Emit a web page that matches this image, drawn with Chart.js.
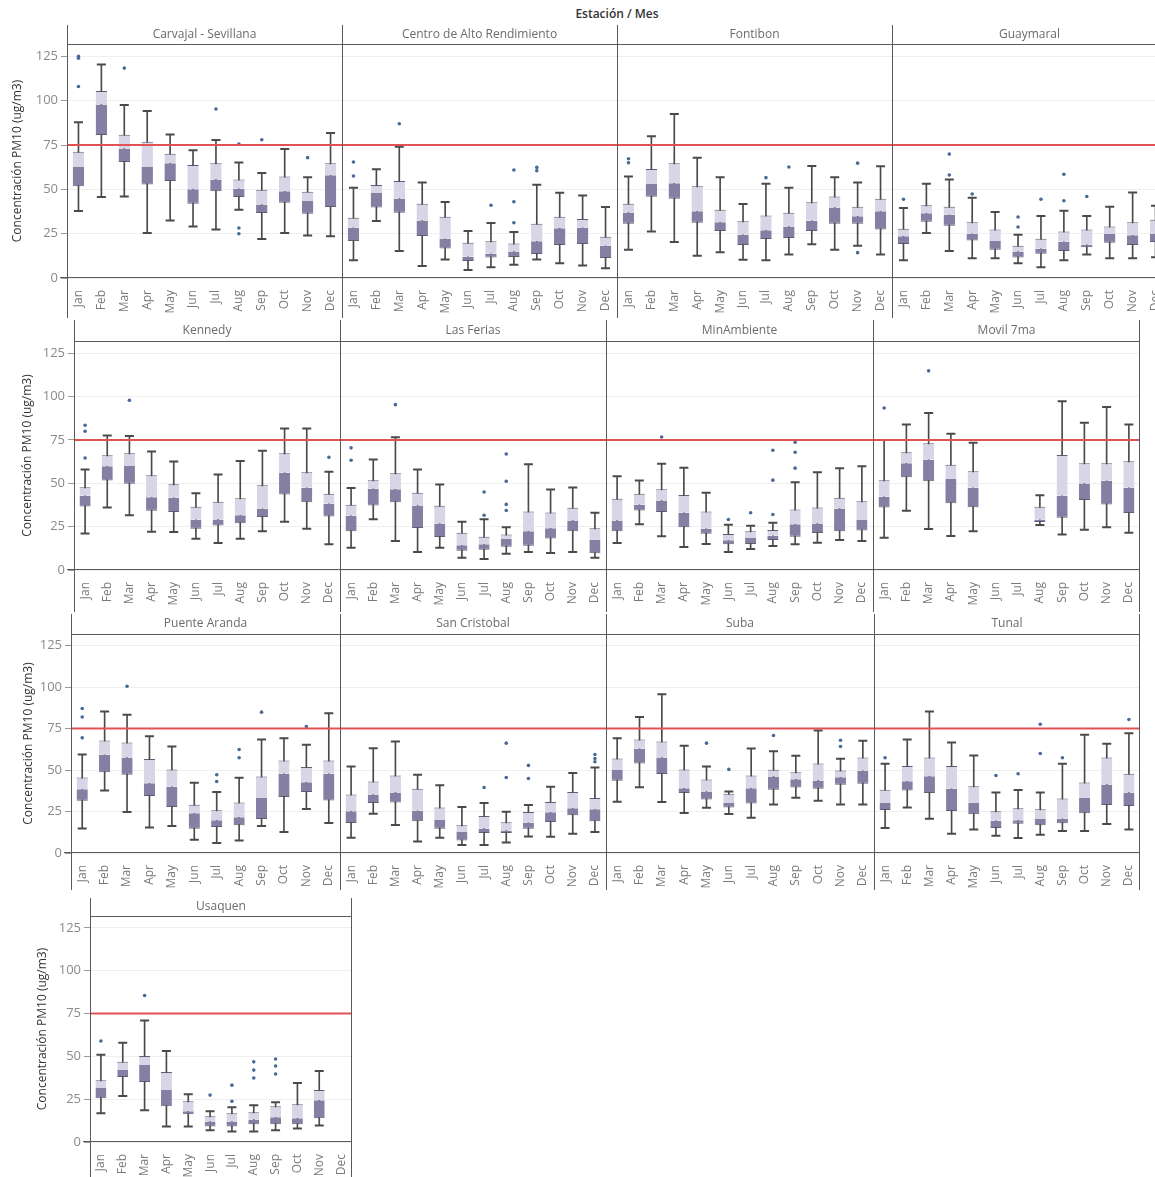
<!DOCTYPE html>
<html>
<head>
<meta charset="utf-8">
<script src="https://cdn.jsdelivr.net/npm/chart.js@4.4.1/dist/chart.umd.min.js"></script>
<style>
  body { margin: 0; width: 1155px; height: 1177px; overflow: hidden; background: #fff; position: relative; font-family: "Open Sans", sans-serif; }
  .panel { position: absolute; }
  #header { position: absolute; top: 5px; left: 68px; width: 1098px; text-align: center; font-size: 12px; font-weight: 600; color: #333; }
</style>
</head>
<body>
<div id="header">Estación / Mes</div>
<script>
// Categories and axis
const months = ['Jan', 'Feb', 'Mar', 'Apr', 'May', 'Jun', 'Jul', 'Aug', 'Sep', 'Oct', 'Nov', 'Dec'];
const yTicks = [0, 25, 50, 75, 100, 125];
const yMax = 132;
const limitValue = 75; // norma PM10
const yTitle = 'Concentración PM10 (ug/m3)';

// Box data per station: [whisker low, q1, median, q3, whisker high]
// Outliers: [month index, value]
const carvajalBox = [[37.8,51.7,62.6,71.2,87.8],[45.7,80.6,97.9,105.5,120.5],[46,65.4,73,80.8,97.6],[25.4,52.8,62.6,76.9,94.2],[32.5,54.7,64.8,70.1,81],[29.1,41.9,50,63.7,72],[27.3,49,55.6,64.8,77.8],[38.5,45.7,50.4,55.6,65.2],[22,36.7,41.5,49.8,59.2],[25.4,42.5,48.9,57.3,72.7],[24,36.3,43.4,48.7,56.8],[23.5,40,58,64.8,81.8]];
const carvajalOut = [[0,125],[0,124],[0,108],[2,118.4],[6,95.3],[7,75.5],[7,28.2],[7,25],[8,78],[10,67.9]];

const centroBox = [[10,20.9,28.4,34,50.9],[32.1,39.7,47.9,52.4,61.3],[15.2,36.8,44.9,54.7,74],[6.8,23.7,32.5,41.9,53.9],[10.5,16.7,22.2,34.6,42.9],[4.5,9.6,12,19.9,26.5],[6,11.5,13.7,20.7,31],[7.5,11.8,15,19.4,25.9],[10.5,13.5,20.7,30.6,52.6],[8.3,18.6,28,34.6,48.1],[7,19.2,28.4,33.3,46.6],[5.5,11.3,18.2,23.3,40]];
const centroOut = [[0,65.4],[0,57.5],[2,87],[6,41],[7,60.9],[7,43],[7,31.2],[8,62.4],[8,60.5]];

const fontibonBox = [[16,30.6,37,41.9,57.3],[26.3,45.9,53,61.5,79.9],[20.3,44.7,53.4,64.8,92.5],[12.6,31.2,37.6,51.7,67.9],[14.5,26.5,31.4,38.5,56.8],[10.3,18.6,24.4,32,41.7],[10,22,26.9,35.2,53.2],[13.3,22.6,29.1,36.8,50.9],[19,26.5,32.3,42.7,63.2],[16,30.6,39.8,46,56.8],[18.2,30.6,34.8,40.2,53.9],[13.2,27.3,37.6,44.7,63]];
const fontibonOut = [[0,67.3],[0,65],[6,56.6],[7,62.6],[10,64.8],[10,14.3]];

const guaymaralBox = [[10,19.2,23.5,27.8,39.5],[25.4,31.8,36.5,41,53.2],[15.2,29.5,35.7,40.2,55.6],[11.1,21.1,25,31.4,45.3],[11.1,16,20.9,27.3,37.2],[8.3,11.5,15,18.2,24.4],[6,13.7,16.5,22.2,35],[10,15.2,20.5,26.3,38],[13.3,17.3,18.8,27.3,35],[11.1,19.9,24.8,29.1,40.2],[11.1,18.6,24.1,31.4,48.3],[11.7,20.3,25,32.9,40.8]];
const guaymaralOut = [[0,44.4],[2,69.9],[2,58.1],[3,47.4],[5,34.4],[5,28.8],[6,44.4],[7,58.5],[7,43.6],[8,46]];

const kennedyBox = [[21.1,36.6,42.8,47.7,57.9],[36,51.6,59.8,66.1,77.5],[31.6,49.7,60,67.3,77.3],[22,34.1,42,54.6,68.3],[21.9,33.4,41.6,49.5,62.5],[18,23.8,29,36.4,44.3],[15.5,25.7,29.1,39.3,55],[18,27,31.6,41.4,62.9],[22.4,30.5,35.3,48.9,68.8],[27.8,43.5,56,67.3,81.5],[23.8,39.1,47.4,56.4,81.5],[14.8,30.9,38.2,43.9,56.6]];
const kennedyOut = [[0,83.4],[0,80],[0,64.6],[2,97.8],[11,65]];

const feriasBox = [[12.8,22.4,31.3,37.6,47.2],[29.3,37.2,46.8,51.8,63.7],[16.7,39.1,46.6,55.8,76.5],[10.4,24.2,37.2,44.5,57.9],[12.8,19,26.8,37,49.3],[7.1,11.1,14.2,21.5,27.8],[6.3,11.7,14.8,19.2,29.3],[9.4,13.4,17.8,20.5,24.7],[10.4,14,22.4,33.7,61],[9.8,18.2,24,33.2,46.4],[10.4,22.4,28.6,35.9,47.5],[7.1,9.6,17.3,24,33]];
const feriasOut = [[0,70.4],[0,63.3],[2,95.3],[6,45],[6,31.6],[7,66.9],[7,51.2],[7,37.8],[7,34.3]];

const minAmbienteBox = [[15.5,22.4,28.6,41,54],[26.3,34.3,37.6,43.9,51.6],[19.4,33.4,40.1,46.6,61.3],[13.2,24.7,33,43.3,58.9],[15,20.9,23.8,33.7,44.5],[10.4,14.8,17.1,20.7,26.1],[12.1,15,18.4,22.4,25.5],[13.8,17.3,19.7,23,27.2],[14.8,19.2,26.3,34.9,50.6],[15.7,21.3,26.8,36,56.4],[17.3,22.4,35.5,41.6,58.7],[16.7,22.8,28.8,39.7,59.8]];
const minAmbienteOut = [[2,76.7],[5,29.1],[6,33],[7,69],[7,51.8],[7,32],[8,73.6],[8,67.9],[8,58.7]];

const movilBox = [[18.6,36,42.2,51.8,75],[34.1,53.5,61.5,67.9,83.8],[23.6,51.2,63.5,73,90.5],[19.6,38.5,52.5,60.6,78.6],[22.4,36.2,47.4,56.9,73.4],null,null,[25.9,27.6,29,36.4,43.1],[20.5,30.1,42.8,66.3,97.2],[23.2,40.3,49.8,61.5,84.9],[24.7,37.8,51.4,61.5,93.9],[21.5,32.8,47.4,62.7,83.8]];
const movilOut = [[0,93.4],[2,114.8]];

const puenteArandaBox = [[14.8,31.5,38.5,45.5,59.4],[37.7,48.6,59.2,67.8,85.3],[24.7,47.2,57.6,66.6,83.3],[15.4,34.3,42.1,56.6,70.4],[16.3,27.7,39.9,50.4,64.2],[8,14.6,23.9,29.1,42.3],[6,15.6,19.7,25.7,36.7],[7.6,16.7,21.5,30.5,45.3],[16.3,20.5,33.1,46.1,68.4],[12.6,33.7,47.8,55.8,69.2],[26.5,36.7,42.7,51.8,65.2],[18.1,31.7,47.8,55.8,84.3]];
const puenteArandaOut = [[0,87.1],[0,82],[0,69.4],[2,100.5],[6,47.2],[6,43.1],[7,62.4],[7,57.4],[8,84.9],[10,76.2]];

const sanCristobalBox = [[9.2,18.1,25.1,35.3,52.2],[23.7,30.1,35.3,43.1,63.2],[16.9,30.5,36.5,46.7,67.2],[7,19.1,25.5,38.7,47.2],[9.2,14.6,19.9,27.5,40.9],[4.8,7.6,12.6,16.7,27.7],[4.8,12,14.8,22.3,30.1],[6.4,12,13.6,18.5,24.9],[10,14.6,18.3,24.7,28.9],[9.8,18.7,24.5,30.7,39.9],[11.6,22.7,26.9,36.7,48.2],[12.6,19.1,26.3,33.1,51.6]];
const sanCristobalOut = [[6,39.5],[7,66.2],[7,45.5],[8,52.8],[8,44.9],[11,59.4],[11,57],[11,55]];

const subaBox = [[30.9,43.5,50,57,69.2],[39.7,54,62.8,68.4,81.9],[30.7,47.6,57.6,67.2,95.7],[24.1,36.1,39.1,50.4,64.6],[27.3,32.3,37.1,44.3,52.2],[23.5,27.5,30.1,35.7,37.1],[21.3,29.9,39.1,46.7,63],[29.3,38.1,46.1,50.2,61.4],[33.3,39.5,44.5,48.6,58.6],[31.5,38.7,43.7,54,73.8],[29.3,41.1,45.7,49.8,56.8],[29.3,41.7,49.6,57.6,67.6]];
const subaOut = [[4,66.2],[5,50.4],[7,70.8],[10,68],[10,64.2]];

const tunalBox = [[15,25.9,30.1,38.1,53.8],[27.5,37.7,43.3,52.4,68.4],[20.7,36.1,46.3,57.6,85.3],[11.6,25.3,38.7,52.4,66.6],[14.2,23.3,30.1,40.3,58.8],[10.4,15,19.5,25.1,36.5],[9,17.7,19.7,26.9,37.9],[11,16.7,20.5,26.3,36.5],[13.2,17.9,20.7,32.9,53.8],[13.2,23.9,33.1,42.5,71.2],[17.5,28.9,41.3,57.6,65.8],[14.2,28.3,36.5,47.8,72.2]];
const tunalOut = [[0,57.4],[5,46.7],[6,47.8],[7,77.6],[7,60],[8,57.4],[11,80.5]];

const usaquenBox = [[16.8,25.6,31.5,36,50.9],[26.8,38,42,46.8,58],[18.5,35,45,50.3,70.9],[9.1,20.9,30.3,40.9,53.2],[9.1,16.2,17.9,23.8,27.9],[6.8,9.1,12,15,18],[6.2,9.1,12,16.8,20.3],[6.2,10.3,13.2,17.4,21.5],[6.8,10.3,14.4,20.9,23.2],[7.9,10.3,13.8,22,34.4],[9.7,13.8,24.4,30.3,41.5],null];
const usaquenOut = [[0,59],[2,85.6],[5,27.4],[6,33.2],[6,23.8],[7,46.8],[7,42],[7,37.4],[8,48.5],[8,44.4],[8,39.7]];

const stations = [
    { name: 'Carvajal - Sevillana', box: carvajalBox, out: carvajalOut },
    { name: 'Centro de Alto Rendimiento', box: centroBox, out: centroOut },
    { name: 'Fontibon', box: fontibonBox, out: fontibonOut },
    { name: 'Guaymaral', box: guaymaralBox, out: guaymaralOut },
    { name: 'Kennedy', box: kennedyBox, out: kennedyOut },
    { name: 'Las Ferias', box: feriasBox, out: feriasOut },
    { name: 'MinAmbiente', box: minAmbienteBox, out: minAmbienteOut },
    { name: 'Movil 7ma', box: movilBox, out: movilOut },
    { name: 'Puente Aranda', box: puenteArandaBox, out: puenteArandaOut },
    { name: 'San Cristobal', box: sanCristobalBox, out: sanCristobalOut },
    { name: 'Suba', box: subaBox, out: subaOut },
    { name: 'Tunal', box: tunalBox, out: tunalOut },
    { name: 'Usaquen', box: usaquenBox, out: usaquenOut }
];

// Page layout (pixels)
const rows = [
    { top: 25, header: 44, axis: 278, bottom: 318, edges: [67, 342, 617, 892, 1167], titlePad: 10, first: 0 },
    { top: 320, header: 341, axis: 570, bottom: 612, edges: [74, 340, 606, 873, 1140], titlePad: 20, first: 4 },
    { top: 614, header: 634, axis: 853, bottom: 890, edges: [71, 340, 606, 874, 1140], titlePad: 21, first: 8 },
    { top: 898, header: 916, axis: 1142, bottom: 1177, edges: [90, 352], titlePad: 35, first: 12 }
];

const FONT = '"Open Sans", sans-serif';
const darkBox = 'rgb(133,127,164)';
const lightBox = 'rgb(216,213,231)';
const whiskerColor = '#4a4a4a';
const outlierColor = 'rgb(74,104,152)';
const frameColor = '#5a5a5a';

// Panel frame: vertical borders, header line and axis line
const framePlugin = {
    id: 'frame',
    afterDraw(chart, args, opts) {
        const { ctx, chartArea: a, height } = chart;
        ctx.save();
        ctx.strokeStyle = frameColor;
        ctx.lineWidth = 1;
        ctx.beginPath();
        const l = Math.round(a.left) + 0.5;
        ctx.moveTo(l, 0); ctx.lineTo(l, height);
        if (opts.right) {
            const r = Math.round(a.right) - 0.5;
            ctx.moveTo(r, 0); ctx.lineTo(r, height);
        }
        const t = Math.round(a.top) + 0.5;
        ctx.moveTo(a.left, t); ctx.lineTo(a.right, t);
        const b = Math.round(a.bottom) - 0.5;
        ctx.moveTo(a.left - opts.ext, b); ctx.lineTo(a.right, b);
        ctx.stroke();
        ctx.restore();
    }
};

// Red reference line at the PM10 limit
const limitPlugin = {
    id: 'limit',
    afterDatasetsDraw(chart) {
        const { ctx, chartArea: a } = chart;
        const y = chart.scales.y.getPixelForValue(limitValue);
        ctx.save();
        ctx.strokeStyle = 'rgb(226,82,82)';
        ctx.lineWidth = 2;
        ctx.beginPath();
        ctx.moveTo(a.left, y); ctx.lineTo(a.right, y);
        ctx.stroke();
        ctx.restore();
    }
};

function makePanel(st, row, idx) {
    const isFirst = idx === 0;
    const isLast = idx === row.edges.length - 2;
    const left = isFirst ? 0 : row.edges[idx];
    const width = row.edges[idx + 1] - left;
    const height = row.bottom - row.top;
    const axisW = isFirst ? row.edges[0] : 0;

    const div = document.createElement('div');
    div.className = 'panel';
    div.style.left = left + 'px';
    div.style.top = row.top + 'px';
    div.style.width = width + 'px';
    div.style.height = height + 'px';
    const canvas = document.createElement('canvas');
    canvas.width = width;
    canvas.height = height;
    canvas.style.width = width + 'px';
    canvas.style.height = height + 'px';
    div.appendChild(canvas);
    document.body.appendChild(div);

    const box = st.box;
    const pick = i => box.map(b => b ? b[i] : null);

    new Chart(canvas, {
        type: 'bar',
        data: {
            labels: months,
            datasets: [
                {
                    label: 'whisker',
                    data: box.map(b => b ? [b[0], b[4]] : null),
                    backgroundColor: whiskerColor,
                    barThickness: 1,
                    grouped: false,
                    order: 5
                },
                {
                    label: 'q1-median',
                    data: box.map(b => b ? [b[1], b[2]] : null),
                    backgroundColor: darkBox,
                    borderColor: 'rgba(80,78,100,0.9)',
                    borderWidth: { top: 0, bottom: 1, left: 0, right: 0 },
                    borderSkipped: false,
                    barPercentage: 0.5,
                    categoryPercentage: 1,
                    grouped: false,
                    order: 4
                },
                {
                    label: 'median-q3',
                    data: box.map(b => b ? [b[2], b[3]] : null),
                    backgroundColor: lightBox,
                    borderColor: 'rgba(80,78,100,0.9)',
                    borderWidth: { top: 1, bottom: 0, left: 0, right: 0 },
                    borderSkipped: false,
                    barPercentage: 0.5,
                    categoryPercentage: 1,
                    grouped: false,
                    order: 3
                },
                {
                    type: 'line',
                    label: 'low',
                    data: pick(0),
                    showLine: false,
                    pointStyle: 'line',
                    pointRadius: 4.5,
                    pointBorderWidth: 2,
                    pointBorderColor: whiskerColor,
                    order: 2
                },
                {
                    type: 'line',
                    label: 'high',
                    data: pick(4),
                    showLine: false,
                    pointStyle: 'line',
                    pointRadius: 4.5,
                    pointBorderWidth: 2,
                    pointBorderColor: whiskerColor,
                    order: 2
                },
                {
                    type: 'line',
                    label: 'outliers',
                    data: st.out.map(([m, v]) => ({ x: months[m], y: v })),
                    showLine: false,
                    pointRadius: 1.8,
                    pointBorderWidth: 0,
                    pointBackgroundColor: outlierColor,
                    order: 1
                }
            ]
        },
        options: {
            responsive: false,
            animation: false,
            events: [],
            layout: { padding: 0, autoPadding: false },
            plugins: {
                legend: { display: false },
                tooltip: { enabled: false },
                title: {
                    display: true,
                    text: st.name,
                    fullSize: false,
                    color: '#6b6b6b',
                    padding: 0,
                    font: { family: FONT, size: 12, weight: 'normal', lineHeight: (row.header - row.top) + 'px' }
                },
                frame: { right: isLast, ext: isFirst ? 7 : 0 }
            },
            scales: {
                x: {
                    offset: true,
                    grid: { display: false },
                    border: { display: false },
                    ticks: {
                        autoSkip: false,
                        minRotation: 90,
                        maxRotation: 90,
                        padding: 4,
                        color: '#7a7a7a',
                        font: { family: FONT, size: 12 }
                    },
                    afterFit: s => {
                        s.height = row.bottom - row.axis;
                        s.paddingLeft = 0;
                        s.paddingRight = 0;
                    }
                },
                y: {
                    min: 0,
                    max: yMax,
                    afterBuildTicks: s => { s.ticks = yTicks.map(v => ({ value: v })); },
                    grid: {
                        color: '#efefef',
                        drawTicks: isFirst,
                        tickLength: 6,
                        tickColor: '#9a9a9a'
                    },
                    border: { display: false },
                    ticks: {
                        display: isFirst,
                        padding: 3,
                        color: '#8a8a8a',
                        font: { family: FONT, size: 13 }
                    },
                    title: {
                        display: isFirst,
                        text: yTitle,
                        color: '#333',
                        padding: { top: row.titlePad, bottom: 0 },
                        font: { family: FONT, size: 12 }
                    },
                    afterFit: s => {
                        s.width = axisW;
                        s.paddingTop = 0;
                        s.paddingBottom = 0;
                    }
                }
            }
        },
        plugins: [framePlugin, limitPlugin]
    });
}

rows.forEach(row => {
    for (let i = 0; i < row.edges.length - 1; i++) {
        makePanel(stations[row.first + i], row, i);
    }
});
</script>
</body>
</html>
